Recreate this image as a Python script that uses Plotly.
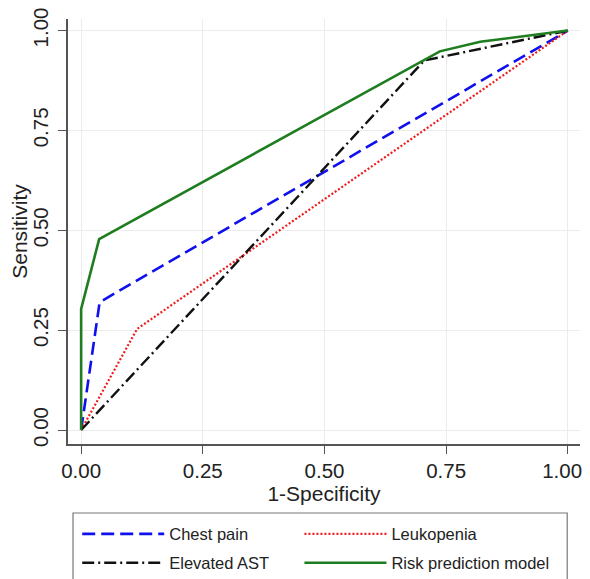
import plotly.graph_objects as go

# ROC curve data (1-Specificity, Sensitivity)
chest_fpr = [0.0, 0.038, 1.0]
chest_tpr = [0.0, 0.32, 1.0]

leuko_fpr = [0.0, 0.115, 1.0]
leuko_tpr = [0.0, 0.253, 1.0]

ast_fpr = [0.0, 0.705, 1.0]
ast_tpr = [0.0, 0.925, 1.0]

risk_fpr = [0.0, 0.0, 0.037, 0.737, 0.82, 1.0]
risk_tpr = [0.0, 0.303, 0.478, 0.948, 0.972, 1.0]

tick_vals = [0.0, 0.25, 0.5, 0.75, 1.0]
tick_text = ["0.00", "0.25", "0.50", "0.75", "1.00"]
# last x label sits slightly left of its tick in the reference
x_tick_text = ["0.00", "0.25", "0.50", "0.75", "1.00\u00a0\u00a0"]

FONT = "Liberation Sans, Arial, sans-serif"

fig = go.Figure()
fig.add_trace(go.Scatter(x=chest_fpr, y=chest_tpr, mode="lines", name="Chest pain",
                         legend="legend",
                         line=dict(color="#1010ee", width=2.6, dash="13px,6px")))
fig.add_trace(go.Scatter(x=leuko_fpr, y=leuko_tpr, mode="lines", name="Leukopenia",
                         legend="legend2",
                         line=dict(color="#ee1c1c", width=2.2, dash="2px,2px")))
fig.add_trace(go.Scatter(x=ast_fpr, y=ast_tpr, mode="lines", name="Elevated AST",
                         legend="legend3",
                         line=dict(color="#111111", width=2.4, dash="12px,4px,2px,4px")))
fig.add_trace(go.Scatter(x=risk_fpr, y=risk_tpr, mode="lines", name="Risk prediction model",
                         legend="legend4",
                         line=dict(color="#1e7d1e", width=2.6)))

axis_common = dict(
    tickvals=tick_vals,
    showgrid=True, gridcolor="#ececec", gridwidth=1,
    zeroline=False, automargin=False, ticklabeloverflow="allow",
    showline=True, linecolor="#555555", linewidth=1.5,
    ticks="outside", ticklen=8, tickcolor="#555555", tickwidth=1.2,
    tickfont=dict(family=FONT, size=20.5, color="#222222"),
)

fig.update_xaxes(range=[-0.027, 1.025], ticklabelstandoff=0, ticktext=x_tick_text,
                 title=dict(text="1-Specificity", standoff=0,
                 font=dict(family=FONT, size=21, color="#222222")), **axis_common)
fig.update_yaxes(range=[-0.035, 1.029], tickangle=-90, ticklabelstandoff=2, ticktext=tick_text,
                 title=dict(text="Sensitivity", standoff=0,
                 font=dict(family=FONT, size=21, color="#222222")), **axis_common)

leg_common = dict(
    orientation="h", xanchor="left", yanchor="middle",
    itemwidth=82, borderwidth=0, bgcolor="rgba(0,0,0,0)",
    font=dict(family=FONT, size=16.5, color="#222222"),
)
col1_x, col2_x = 0.018, 0.452
row1_y, row2_y = -0.212, -0.28

fig.update_layout(
    width=590, height=595,
    margin=dict(l=60, r=18, t=11, b=159),
    paper_bgcolor="white", plot_bgcolor="white",
    font=dict(family=FONT, color="#222222"),
    showlegend=True,
    legend=dict(x=col1_x, y=row1_y, **leg_common),
    legend2=dict(x=col2_x, y=row1_y, **leg_common),
    legend3=dict(x=col1_x, y=row2_y, **leg_common),
    legend4=dict(x=col2_x, y=row2_y, **leg_common),
    shapes=[dict(type="rect", xref="paper", yref="paper",
                 x0=0.0098, x1=0.975, y0=-0.362, y1=-0.1624,
                 line=dict(color="#777777", width=1.2), fillcolor="rgba(0,0,0,0)")],
)

fig.write_html("out.html")
